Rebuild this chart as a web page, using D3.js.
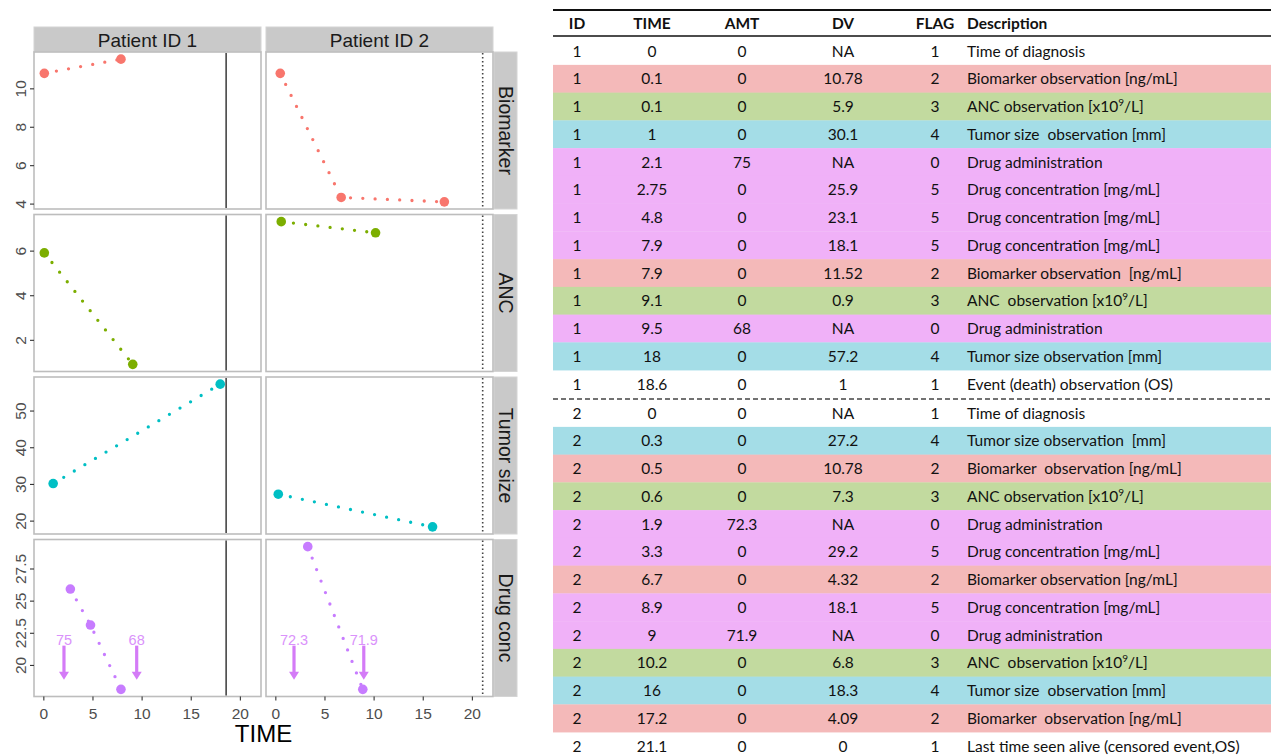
<!DOCTYPE html>
<html><head><meta charset="utf-8">
<script src="https://cdn.jsdelivr.net/npm/d3@7"></script>
<style>body{margin:0;background:#fff} svg{display:block}</style>
</head><body>
<svg id="c" width="1271" height="756"></svg>
<script>
// ---- data (one entry per table row) ----
const ids   = [1,1,1,1,1,1,1,1,1,1,1,1,1, 2,2,2,2,2,2,2,2,2,2,2,2,2];
const times = [0,0.1,0.1,1,2.1,2.75,4.8,7.9,7.9,9.1,9.5,18,18.6, 0,0.3,0.5,0.6,1.9,3.3,6.7,8.9,9,10.2,16,17.2,21.1];
const amts  = [0,0,0,0,75,0,0,0,0,0,68,0,0, 0,0,0,0,72.3,0,0,0,71.9,0,0,0,0];
const dvs   = [null,10.78,5.9,30.1,null,25.9,23.1,18.1,11.52,0.9,null,57.2,1, null,27.2,10.78,7.3,null,29.2,4.32,18.1,null,6.8,18.3,4.09,0];
const flags = [1,2,3,4,0,5,5,5,2,3,0,4,1, 1,4,2,3,0,5,2,5,0,3,4,2,1];
const descriptions = [
  "Time of diagnosis",
  "Biomarker observation [ng/mL]",
  "ANC observation [x10⁹/L]",
  "Tumor size  observation [mm]",
  "Drug administration",
  "Drug concentration [mg/mL]",
  "Drug concentration [mg/mL]",
  "Drug concentration [mg/mL]",
  "Biomarker observation  [ng/mL]",
  "ANC  observation [x10⁹/L]",
  "Drug administration",
  "Tumor size observation [mm]",
  "Event (death) observation (OS)",
  "Time of diagnosis",
  "Tumor size observation  [mm]",
  "Biomarker  observation [ng/mL]",
  "ANC observation [x10⁹/L]",
  "Drug administration",
  "Drug concentration [mg/mL]",
  "Biomarker observation [ng/mL]",
  "Drug concentration [mg/mL]",
  "Drug administration",
  "ANC  observation [x10⁹/L]",
  "Tumor size  observation [mm]",
  "Biomarker  observation [ng/mL]",
  "Last time seen alive (censored event,OS)"
];
const headers = ["ID","TIME","AMT","DV","FLAG","Description"];
const patients = [1,2];
const patientLabels = ["Patient ID 1","Patient ID 2"];
const measureNames = ["Biomarker","ANC","Tumor size","Drug conc"];
const measureFlags = [2,3,4,5];
const measureColors = ["#F8766D","#7CAE00","#00BFC4","#C77CFF"];
const xTicks = [0,5,10,15,20];
const yTicks = [[4,6,8,10],[2,4,6],[20,30,40,50],[20,22.5,25,27.5]];
const doseArrowTop = 21.5, doseArrowTip = 18.85; // in drug-conc units
const bandColors = {0:"#F0B1F8",1:"#FFFFFF",2:"#F4B9B9",3:"#C2DA9F",4:"#A4DDE7",5:"#F0B1F8"};

// ---- chart ----
const svg = d3.select("#c");
const FONT = "'Liberation Sans', Arial, Helvetica, sans-serif";
const panelW = 227, panelH = 157, col0 = 34, colGap = 5, row0 = 52, rowGap = 5.5;
const colLeft = c => col0 + c*(panelW+colGap);
const rowTop = r => row0 + r*(panelH+rowGap);

const rowsIdx = d3.range(ids.length);
const xVals = rowsIdx.filter(i => flags[i] >= 2 || flags[i] === 0 || (flags[i] === 1 && dvs[i] !== null)).map(i => times[i]);
const xExt = d3.extent(xVals);
const xPad = (xExt[1]-xExt[0])*0.05;
const xScales = patients.map((p,c) => d3.scaleLinear().domain([xExt[0]-xPad, xExt[1]+xPad]).range([colLeft(c), colLeft(c)+panelW]));
const yScales = measureFlags.map((f,r) => {
  const e = d3.extent(rowsIdx.filter(i => flags[i] === f).map(i => dvs[i]));
  const pad = (e[1]-e[0])*0.05;
  return d3.scaleLinear().domain([e[0]-pad, e[1]+pad]).range([rowTop(r)+panelH, rowTop(r)]);
});

// top strips
patients.forEach((p,c) => {
  svg.append("rect").attr("x", colLeft(c)).attr("y", 27).attr("width", panelW).attr("height", 25)
    .attr("fill", "#C9C9C9").attr("stroke", "#D4D4D4").attr("stroke-width", 1);
  svg.append("text").attr("x", colLeft(c)+panelW/2).attr("y", 46.5).attr("text-anchor","middle")
    .attr("font-family", FONT).attr("font-size", 19).attr("fill","#1A1A1A").text(patientLabels[c]);
});
// right strips
measureNames.forEach((m,r) => {
  const sx = colLeft(1)+panelW+1;
  svg.append("rect").attr("x", sx).attr("y", rowTop(r)).attr("width", 23).attr("height", panelH)
    .attr("fill", "#C9C9C9").attr("stroke", "#D4D4D4").attr("stroke-width", 1);
  svg.append("text").attr("transform", `translate(${sx+5},${rowTop(r)+panelH/2}) rotate(90)`)
    .attr("text-anchor","middle").attr("font-family", FONT).attr("font-size", 19.5).attr("fill","#1A1A1A").text(m);
});

// panels
measureFlags.forEach((f,r) => {
  const y = yScales[r];
  patients.forEach((p,c) => {
    const x = xScales[c];
    const g = svg.append("g");
    g.append("rect").attr("x", colLeft(c)).attr("y", rowTop(r)).attr("width", panelW).attr("height", panelH)
      .attr("fill","#fff").attr("stroke","#BDBDBD").attr("stroke-width",1.6);
    // event / censor lines
    rowsIdx.filter(i => ids[i]===p && flags[i]===1 && dvs[i]!==null).forEach(i => {
      g.append("line").attr("x1", x(times[i])).attr("x2", x(times[i]))
        .attr("y1", rowTop(r)+1).attr("y2", rowTop(r)+panelH-1)
        .attr("stroke", dvs[i]===1 ? "#2b2b2b" : "#444")
        .attr("stroke-width", dvs[i]===1 ? 1.4 : 1.6)
        .attr("stroke-dasharray", dvs[i]===1 ? null : "1.6,2.4");
    });
    const pts = rowsIdx.filter(i => ids[i]===p && flags[i]===f).map(i => ({t:times[i], v:dvs[i]})).sort((a,b)=>a.t-b.t);
    g.append("path").datum(pts)
      .attr("d", d3.line().x(d=>x(d.t)).y(d=>y(d.v)))
      .attr("fill","none").attr("stroke", measureColors[r]).attr("stroke-width", 3.3)
      .attr("stroke-linecap","round").attr("stroke-dasharray","0,12.3");
    g.selectAll("circle.pt").data(pts).enter().append("circle")
      .attr("cx", d=>x(d.t)).attr("cy", d=>y(d.v)).attr("r", 4.8).attr("fill", measureColors[r]);
    if (f === 5) {
      const doses = rowsIdx.filter(i => ids[i]===p && flags[i]===0);
      doses.forEach(i => {
        const ax = x(times[i]), y0 = y(doseArrowTop), y1 = y(doseArrowTip);
        g.append("line").attr("x1", ax).attr("x2", ax).attr("y1", y0).attr("y2", y1-7)
          .attr("stroke", "#D47BF7").attr("stroke-width", 3.2);
        g.append("path").attr("d", `M${ax-5},${y1-8}L${ax+5},${y1-8}L${ax},${y1}Z`).attr("fill", "#D47BF7");
        g.append("text").attr("x", ax).attr("y", y0-1).attr("text-anchor","middle")
          .attr("font-family", FONT).attr("font-size", 14.5).attr("fill", "#DA92FB").text(String(amts[i]));
      });
    }
  });
  // y axis
  const ax = svg.append("g").attr("transform", `translate(${col0},0)`)
    .call(d3.axisLeft(y).tickValues(yTicks[r]).tickSize(4).tickFormat(d3.format("")));
  ax.select(".domain").remove();
  ax.selectAll(".tick line").attr("stroke","#333").attr("stroke-width",1.1);
  ax.selectAll(".tick text").attr("x",0).attr("dy",null).attr("text-anchor","middle")
    .attr("transform","translate(-8,0) rotate(-90)")
    .attr("font-family", FONT).attr("font-size", 15.5).attr("fill","#4D4D4D");
});
// x axes
patients.forEach((p,c) => {
  const ax = svg.append("g").attr("transform", `translate(0,${rowTop(3)+panelH})`)
    .call(d3.axisBottom(xScales[c]).tickValues(xTicks).tickSize(4));
  ax.select(".domain").remove();
  ax.selectAll(".tick line").attr("stroke","#333").attr("stroke-width",1.1);
  ax.selectAll(".tick text").attr("y", 22.5).attr("dy", null)
    .attr("font-family", FONT).attr("font-size", 15.5).attr("fill","#4D4D4D");
});
svg.append("text").attr("x", (colLeft(0)+colLeft(1)+panelW)/2).attr("y", 742).attr("text-anchor","middle")
  .attr("font-family", FONT).attr("font-size", 24).attr("fill","#000").text("TIME");

// ---- table ----
const TFONT = "Lato, 'Open Sans', sans-serif";
const colX = [577, 652, 742, 843, 935];
const descX = 967, tableLeft = 553, tableRight = 1271, rowH = 27.75;
const rowCenter = i => i < 13 ? 51 + i*rowH : 413 + (i-13)*rowH;
const tg = svg.append("g").attr("font-family", TFONT).attr("font-size", 15.5).attr("fill", "#111");
rowsIdx.forEach(i => {
  const cy = rowCenter(i);
  if (flags[i] !== 1)
    tg.append("rect").attr("x", tableLeft).attr("y", cy - rowH/2).attr("width", tableRight-tableLeft).attr("height", rowH+0.3)
      .attr("fill", bandColors[flags[i]]);
});
tg.append("line").attr("x1", tableLeft).attr("x2", tableRight).attr("y1", 10).attr("y2", 10).attr("stroke","#111").attr("stroke-width",2);
tg.append("line").attr("x1", tableLeft).attr("x2", tableRight).attr("y1", 36).attr("y2", 36).attr("stroke","#111").attr("stroke-width",1.5);
tg.append("line").attr("x1", tableLeft).attr("x2", tableRight).attr("y1", 399).attr("y2", 399).attr("stroke","#444").attr("stroke-width",1.5).attr("stroke-dasharray","5,3");
headers.forEach((h,k) => {
  tg.append("text").attr("x", k<5 ? colX[k] : descX).attr("y", 28.5).attr("text-anchor", k<5 ? "middle" : "start")
    .attr("font-weight","bold").text(h);
});
rowsIdx.forEach(i => {
  const by = rowCenter(i) + 5.5;
  const vals = [ids[i], times[i], amts[i], dvs[i]===null ? "NA" : dvs[i], flags[i]];
  vals.forEach((v,k) => tg.append("text").attr("x", colX[k]).attr("y", by).attr("text-anchor","middle").text(String(v)));
  const t = tg.append("text").attr("x", descX).attr("y", by).style("white-space","pre");
  const parts = descriptions[i].split("⁹");
  parts.forEach((s,j) => {
    const sp = t.append("tspan").text(s);
    if (j > 0) sp.attr("dy", 6);
    if (j < parts.length-1) t.append("tspan").attr("dy", -6).attr("font-size", 10).text("9");
  });
});
</script>
</body></html>
